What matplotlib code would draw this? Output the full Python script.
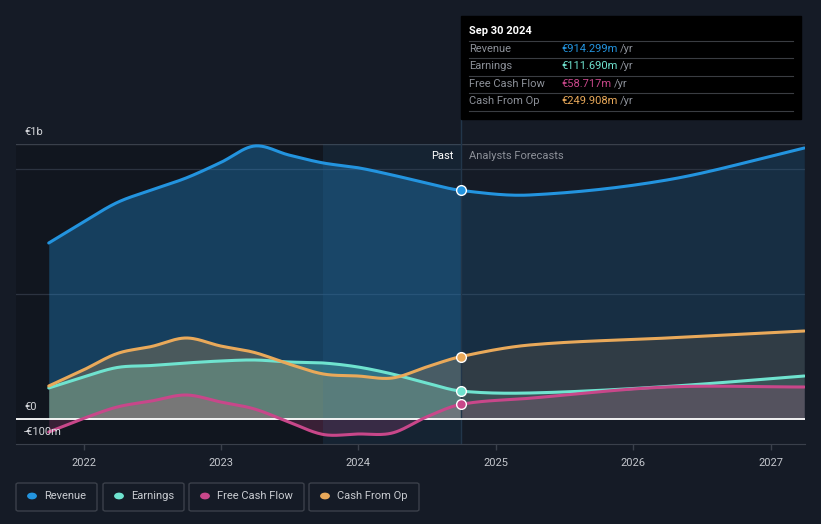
import numpy as np
import pandas as pd
import matplotlib
matplotlib.use("Agg")
import matplotlib.pyplot as plt
import matplotlib.dates as mdates
from matplotlib.patches import Rectangle, FancyBboxPatch
from matplotlib.lines import Line2D

plt.rcParams["font.family"] = ["Roboto", "DejaVu Sans"]

# ---------------- data (EUR m) ----------------
dates = pd.to_datetime([
    "2021-09-30", "2021-12-31", "2022-03-31", "2022-06-30", "2022-09-30",
    "2022-12-31", "2023-03-31", "2023-06-30", "2023-09-30", "2023-12-31",
    "2024-03-31", "2024-06-30", "2024-09-30",
    "2025-03-31", "2026-03-31", "2027-03-31",
])
revenue = [704, 788, 866, 916, 964, 1026, 1092, 1056, 1024, 1005, 976, 944, 914.299, 896, 956, 1084]
earnings = [124, 168, 206, 214, 224, 232, 236, 228, 224, 208, 180, 144, 111.690, 104, 130, 172]
free_cash_flow = [-52, 2, 48, 72, 96, 68, 40, -12, -62, -60, -56, 8, 58.717, 83, 128, 128]
cash_from_op = [132, 196, 262, 290, 324, 292, 266, 220, 180, 172, 164, 208, 249.908, 296, 324, 352]

names = ["Revenue", "Earnings", "Free Cash Flow", "Cash From Op"]
colors = ["#2394df", "#6fe3cf", "#c8478a", "#e9a95a"]
tooltip_vals = ["€914.299m", "€111.690m", "€58.717m", "€249.908m"]

now = pd.Timestamp("2024-09-30")
band_start = pd.Timestamp("2023-09-30")

BG = "#151b26"
W, H = 821, 524


def smooth(x, y, n=24):
    # cubic hermite (catmull-rom style) through the points
    x = np.asarray(x, float)
    y = np.asarray(y, float)
    m = np.zeros_like(y)
    m[1:-1] = (y[2:] - y[:-2]) / (x[2:] - x[:-2])
    m[0] = (y[1] - y[0]) / (x[1] - x[0])
    m[-1] = (y[-1] - y[-2]) / (x[-1] - x[-2])
    xs, ys = [], []
    for i in range(len(x) - 1):
        h = x[i + 1] - x[i]
        t = np.linspace(0, 1, n, endpoint=False)
        h00 = 2 * t**3 - 3 * t**2 + 1
        h10 = t**3 - 2 * t**2 + t
        h01 = -2 * t**3 + 3 * t**2
        h11 = t**3 - t**2
        xs.append(x[i] + t * h)
        ys.append(h00 * y[i] + h10 * h * m[i] + h01 * y[i + 1] + h11 * h * m[i + 1])
    xs.append([x[-1]])
    ys.append([y[-1]])
    return np.concatenate(xs), np.concatenate(ys)


fig = plt.figure(figsize=(W / 100, H / 100), dpi=100, facecolor=BG)
ax = fig.add_axes([16 / W, 1 - 444 / H, (805 - 16) / W, 300 / H])
ax.set_facecolor(BG)

xnum = mdates.date2num(dates)
xnow = mdates.date2num(now)
xmin = mdates.date2num(pd.Timestamp("2021-07-05"))
xmax = mdates.date2num(pd.Timestamp("2027-04-02"))

# past region darker, last-year band lighter
ax.axvspan(xmin, mdates.date2num(band_start), color="#0e1117", alpha=0.45, lw=0, zorder=0)

series = [revenue, earnings, free_cash_flow, cash_from_op]
fill_alpha_past = [0.33, 0.30, 0.22, 0.25]
fill_alpha_fc = [0.16, 0.14, 0.18, 0.12]
for vals, c, ap, af in zip(series, colors, fill_alpha_past, fill_alpha_fc):
    sx, sy = smooth(xnum, vals)
    past = sx <= xnow + 1e-6
    fc = sx >= xnow - 1e-6
    ax.fill_between(sx[past], sy[past], 0, color=c, alpha=ap, lw=0, zorder=1)
    ax.fill_between(sx[fc], sy[fc], 0, color=c, alpha=af, lw=0, zorder=1)

ax.axvspan(mdates.date2num(band_start), xnow, color="#1e6aa0", alpha=0.10, lw=0, zorder=1.5)

for vals, c in zip(series, colors):
    sx, sy = smooth(xnum, vals)
    ax.plot(sx, sy, color=c, lw=2.2, zorder=3, solid_capstyle="round")
    ax.plot(xnow, vals[12], "o", ms=7, color=c, mec="white", mew=1.0, zorder=4)

# grid / zero line
for yv in [1000, 500]:
    ax.axhline(yv, color="#2c3340", lw=0.9, zorder=0.5)
ax.axhline(1100, color="#3a404b", lw=1.0, zorder=0.5)
ax.axhline(0, color="white", lw=1.3, zorder=2.5)
ax.axvline(xnow, color="#22364a", lw=1.0, zorder=2)

ax.set_xlim(xmin, xmax)
ax.set_ylim(-100, 1100)
ax.set_yticks([])
ax.xaxis.set_major_locator(mdates.YearLocator())
ax.xaxis.set_major_formatter(mdates.DateFormatter("%Y"))
ax.tick_params(axis="x", colors="#3a404b", labelcolor="#c3c6cc", labelsize=8,
               length=4, width=1, pad=6)
for s in ["top", "left", "right"]:
    ax.spines[s].set_visible(False)
ax.spines["bottom"].set_color("#3a404b")

# y labels
ax.text(24 / W, 1 - 132 / H, "€1b", transform=fig.transFigure, color="#d6d8dc",
        fontsize=8, va="center")
ax.text(24 / W, 1 - 407 / H, "€0", transform=fig.transFigure, color="#d6d8dc",
        fontsize=8, va="center")
ax.text(24 / W, 1 - 432 / H, "-€100m", transform=fig.transFigure, color="#d6d8dc",
        fontsize=8, va="center")

# past / forecast labels
fig.text(453 / W, 1 - 156 / H, "Past", color="white", fontsize=8, ha="right", va="center")
fig.text(469 / W, 1 - 156 / H, "Analysts Forecasts", color="#8c9098", fontsize=8,
         ha="left", va="center")

# tooltip box
fig.patches.append(Rectangle((461 / W, 1 - 119 / H), 340 / W, 103 / H,
                             transform=fig.transFigure, color="black", zorder=5))
fig.lines.append(Line2D([461 / W, 461 / W], [1 - 144 / H, 1 - 119 / H],
                        transform=fig.transFigure, color="#22364a", lw=1))
fig.text(469 / W, 1 - 31 / H, "Sep 30 2024", color="white", fontsize=8,
         fontweight="bold", va="center", zorder=6)
for yy in [41, 58, 76, 93, 111]:
    fig.lines.append(Line2D([469 / W, 793 / W], [1 - yy / H, 1 - yy / H],
                            transform=fig.transFigure, color="#3a3d42", lw=0.8, zorder=6))
row_y = [49, 66, 84, 101]
val_texts = []
for name, c, v, yy in zip(names, colors, tooltip_vals, row_y):
    fig.text(469 / W, 1 - yy / H, name, color="#8c9098", fontsize=8, va="center", zorder=6)
    t = fig.text(561 / W, 1 - yy / H, v, color=c, fontsize=8, va="center", zorder=6)
    val_texts.append((t, yy))

fig.canvas.draw()
r = fig.canvas.get_renderer()
for t, yy in val_texts:
    bb = t.get_window_extent(r)
    fig.text(bb.x1 / W + 3 / W, 1 - yy / H, "/yr", color="#8c9098", fontsize=8,
             va="center", zorder=6)

# legend boxes
boxes = [(16, 97), (103, 184), (189, 304), (309, 419)]
for (x0, x1), name, c in zip(boxes, names, colors):
    fig.patches.append(FancyBboxPatch((x0 / W, 1 - 511 / H), (x1 - x0) / W, 28 / H,
                                      boxstyle="round,pad=0,rounding_size=0.003",
                                      transform=fig.transFigure, fc="none",
                                      ec="#3b404a", lw=1))
    fig.patches.append(plt.Circle(((x0 + 16) / W, 1 - 496 / H), 4.2 / W,
                                  transform=fig.transFigure, color=c))
    fig.text((x0 + 28) / W, 1 - 496 / H, name, color="#c9ccd1", fontsize=8, va="center")

fig.savefig("out.png", dpi=100, facecolor=BG)
